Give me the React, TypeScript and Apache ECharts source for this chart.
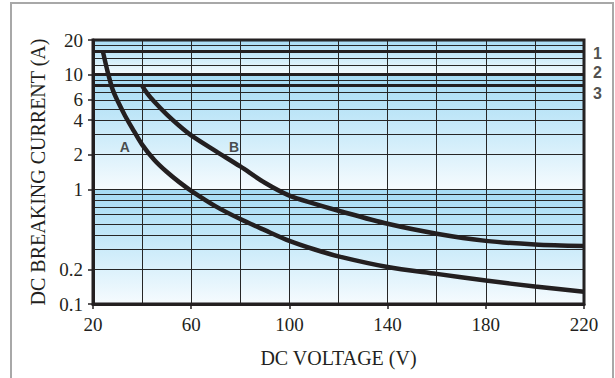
import React, { useEffect, useRef } from "react";
import * as echarts from "echarts";

const voltageA = [24, 26, 28, 30, 33, 36, 40, 45, 50, 55, 60, 70, 80, 90, 100, 110, 120, 140, 160, 180, 200, 220];
const currentA = [16, 10.5, 7.4, 5.9, 4.4, 3.4, 2.45, 1.8, 1.42, 1.16, 0.97, 0.71, 0.55, 0.44, 0.355, 0.3, 0.26, 0.21, 0.183, 0.16, 0.142, 0.128];

const voltageB = [40, 42, 45, 50, 55, 60, 70, 80, 90, 100, 110, 120, 140, 160, 180, 200, 220];
const currentB = [8, 6.9, 5.8, 4.5, 3.6, 2.95, 2.15, 1.58, 1.14, 0.88, 0.75, 0.65, 0.5, 0.41, 0.355, 0.33, 0.32];

const xLabelValues = [20, 60, 100, 140, 180, 220];
const yLabelValues = [0.1, 0.2, 1, 2, 4, 6, 10, 20];
const yGridValues = [0.1, 0.2, 0.3, 0.4, 0.5, 0.6, 0.7, 0.8, 0.9, 1, 2, 3, 4, 5, 6, 7, 8, 9, 10, 12, 14, 16, 18, 20];

const bandTop = [20, 10, 1];
const bandBottom = [10, 1, 0.1];

const ratedCurrents = [16, 10, 8];
const ratedNames = ["1", "2", "3"];

const curveNames = ["A", "B"];

export default function App() {
  const ref = useRef<HTMLDivElement>(null);
  useEffect(() => {
    if (!ref.current) return;
    const chart = echarts.init(ref.current, null, { renderer: "svg" });
    const ink = "#231f20";
    const serif = "'Liberation Serif', 'Times New Roman', serif";
    const bandData = bandTop.map((t, i) => [20, 220, t, bandBottom[i]]);
    const ratedOffsets = [[0, 2], [0, -2], [0, 8]];
    const option: any = {
      animation: false,
      backgroundColor: "#ffffff",
      textStyle: { fontFamily: serif },
      graphic: [
        {
          type: "rect",
          z: -10,
          shape: { x: 11, y: 3, width: 602, height: 420 },
          style: { fill: "none", stroke: "#a8a8a8", lineWidth: 2 },
          silent: true,
        },
      ],
      grid: {
        left: 93,
        right: 31,
        top: 40,
        bottom: 74,
        show: true,
        backgroundColor: "transparent",
        borderColor: ink,
        borderWidth: 3,
      },
      xAxis: [
        {
          type: "value",
          min: 20,
          max: 220,
          interval: 20,
          axisLine: { show: false },
          axisTick: { show: false },
          axisLabel: { show: false },
          splitLine: { show: true, lineStyle: { color: "#262626", width: 1 } },
        },
        {
          type: "value",
          min: 20,
          max: 220,
          position: "bottom",
          axisLine: { show: true, lineStyle: { color: ink, width: 3 } },
          axisTick: { show: true, length: 5, customValues: xLabelValues, lineStyle: { color: ink, width: 1.5 } },
          axisLabel: {
            customValues: xLabelValues,
            fontFamily: serif,
            fontSize: 19,
            color: ink,
            margin: 11,
          },
          splitLine: { show: false },
          name: "DC VOLTAGE (V)",
          nameLocation: "middle",
          nameGap: 44,
          nameTextStyle: { fontFamily: serif, fontSize: 20, color: ink },
        },
      ],
      yAxis: [
        {
          type: "log",
          logBase: 10,
          min: 0.1,
          max: 20,
          axisLine: { show: false },
          axisTick: { show: false, customValues: yGridValues },
          axisLabel: { show: false },
          splitLine: { show: true, lineStyle: { color: "#262626", width: 1 } },
        },
        {
          type: "log",
          logBase: 10,
          min: 0.1,
          max: 20,
          position: "left",
          axisLine: { show: true, lineStyle: { color: ink, width: 3 } },
          axisTick: { show: true, length: 5, customValues: yLabelValues, lineStyle: { color: ink, width: 1.5 } },
          axisLabel: {
            customValues: yLabelValues,
            formatter: (v: number) => String(v),
            fontFamily: serif,
            fontSize: 19,
            color: ink,
            margin: 10,
          },
          splitLine: { show: false },
          name: "DC BREAKING CURRENT (A)",
          nameLocation: "middle",
          nameGap: 43,
          nameTextStyle: { fontFamily: serif, fontSize: 20, color: ink },
        },
      ],
      series: [
        {
          type: "custom",
          name: "bands",
          z: -1,
          silent: true,
          xAxisIndex: 0,
          yAxisIndex: 0,
          data: bandData,
          renderItem: (params: any, api: any) => {
            const p0 = api.coord([api.value(0), api.value(2)]);
            const p1 = api.coord([api.value(1), api.value(3)]);
            return {
              type: "rect",
              shape: { x: p0[0], y: p0[1], width: p1[0] - p0[0], height: p1[1] - p0[1] },
              style: {
                fill: new echarts.graphic.LinearGradient(0, 0, 0, 1, [
                  { offset: 0, color: "#a6dbf4" },
                  { offset: 0.45, color: "#c6e9f9" },
                  { offset: 1, color: "#f6fbfe" },
                ]),
              },
            };
          },
        },
        {
          type: "line",
          name: curveNames[0],
          xAxisIndex: 0,
          yAxisIndex: 0,
          data: voltageA.map((v, i) => [v, currentA[i]]),
          smooth: 0.3,
          symbol: "none",
          lineStyle: { color: ink, width: 4.5 },
          z: 4,
          markLine: {
            silent: true,
            symbol: "none",
            lineStyle: { color: ink, width: 3, type: "solid" },
            label: { show: false },
            data: ratedCurrents.map((c) => ({ yAxis: c })),
          },
        },
        {
          type: "line",
          name: curveNames[1],
          xAxisIndex: 0,
          yAxisIndex: 0,
          data: voltageB.map((v, i) => [v, currentB[i]]),
          smooth: 0.3,
          symbol: "none",
          lineStyle: { color: ink, width: 4.5 },
          z: 4,
        },
        {
          type: "scatter",
          name: "rated labels",
          xAxisIndex: 0,
          yAxisIndex: 0,
          symbolSize: 0,
          silent: true,
          clip: false,
          data: ratedCurrents.map((c, i) => ({
            value: [220, c],
            name: ratedNames[i],
            label: { offset: ratedOffsets[i] },
          })),
          label: {
            show: true,
            position: "right",
            distance: 9,
            formatter: (p: any) => p.name,
            fontFamily: "Liberation Sans",
            fontWeight: "bold",
            fontSize: 16,
            color: ink,
          },
          z: 6,
        },
        {
          type: "scatter",
          name: "curve labels",
          xAxisIndex: 0,
          yAxisIndex: 0,
          symbolSize: 0,
          silent: true,
          data: [
            { value: [33, 2.35], name: curveNames[0] },
            { value: [77.5, 2.35], name: curveNames[1] },
          ],
          label: {
            show: true,
            position: "inside",
            formatter: (p: any) => p.name,
            fontFamily: "Liberation Sans",
            fontWeight: "bold",
            fontSize: 14,
            color: ink,
          },
          z: 6,
        },
      ],
    };
    chart.setOption(option);
    return () => chart.dispose();
  }, []);
  return (
    <div
      ref={ref}
      style={{ position: "fixed", left: 0, top: 0, width: 615, height: 378, background: "#fff" }}
    />
  );
}
